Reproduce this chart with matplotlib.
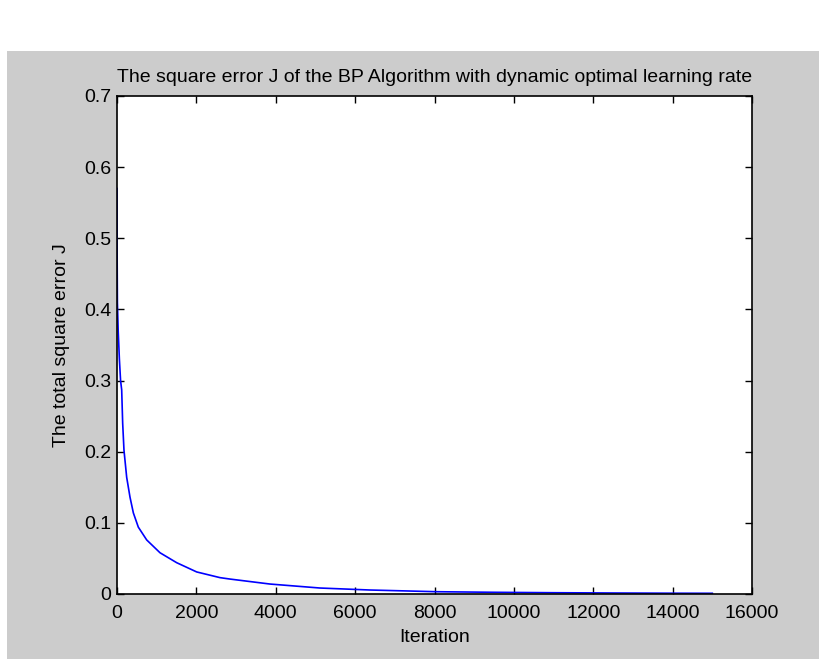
import matplotlib.pyplot as plt
from matplotlib.patches import Rectangle

# training error J recorded over the BP iterations
iterations = [0, 2, 10, 30, 60, 90, 118, 143, 176, 244, 328, 412, 537, 748,
              1083, 1504, 2008, 2595, 2847, 3855, 5115, 6375, 8060, 9500,
              11000, 12500, 14000, 15000]
square_error = [0.57, 0.49, 0.41, 0.37, 0.33, 0.30, 0.287, 0.240, 0.202, 0.164,
                0.136, 0.114, 0.094, 0.076, 0.058, 0.044, 0.031, 0.023, 0.021,
                0.014, 0.0084, 0.0056, 0.0032, 0.0024, 0.0018, 0.0014, 0.0011,
                0.0010]

xticks = [0, 2000, 4000, 6000, 8000, 10000, 12000, 14000, 16000]
yticks = [0, 0.1, 0.2, 0.3, 0.4, 0.5, 0.6, 0.7]

plt.rcParams['font.family'] = ['Liberation Sans', 'DejaVu Sans']

fig = plt.figure(figsize=(8.19, 6.59), dpi=100, facecolor='white')
# grey window background below the white strip at the top
fig.patches.append(Rectangle((7 / 819, 0), 1 - 7 / 819, 1 - 51 / 659,
                             transform=fig.transFigure, facecolor='#cccccc',
                             edgecolor='none', zorder=-5))

ax = fig.add_axes([117 / 819, 65 / 659, 635 / 819, 498 / 659])
ax.set_facecolor('white')
ax.plot(iterations, square_error, color='blue', linewidth=1.2)

ax.set_xlim(0, 16000)
ax.set_ylim(0, 0.7)
ax.set_xticks(xticks)
ax.set_yticks(yticks)
ax.set_xticklabels([str(t) for t in xticks])
ax.set_yticklabels(['0', '0.1', '0.2', '0.3', '0.4', '0.5', '0.6', '0.7'])
ax.tick_params(direction='in', length=5, width=1, top=True, right=True,
               labelsize=14, pad=4, colors='black')
ax.tick_params(axis='x', pad=8)
for s in ax.spines.values():
    s.set_linewidth(1.2)

ax.set_title('The square error J of the BP Algorithm with dynamic optimal learning rate',
             fontsize=14, pad=10)
ax.set_xlabel('Iteration', fontsize=14, labelpad=5)
ax.set_ylabel('The total square error J', fontsize=14, labelpad=10)

fig.savefig('out.png', dpi=100, facecolor=fig.get_facecolor())
